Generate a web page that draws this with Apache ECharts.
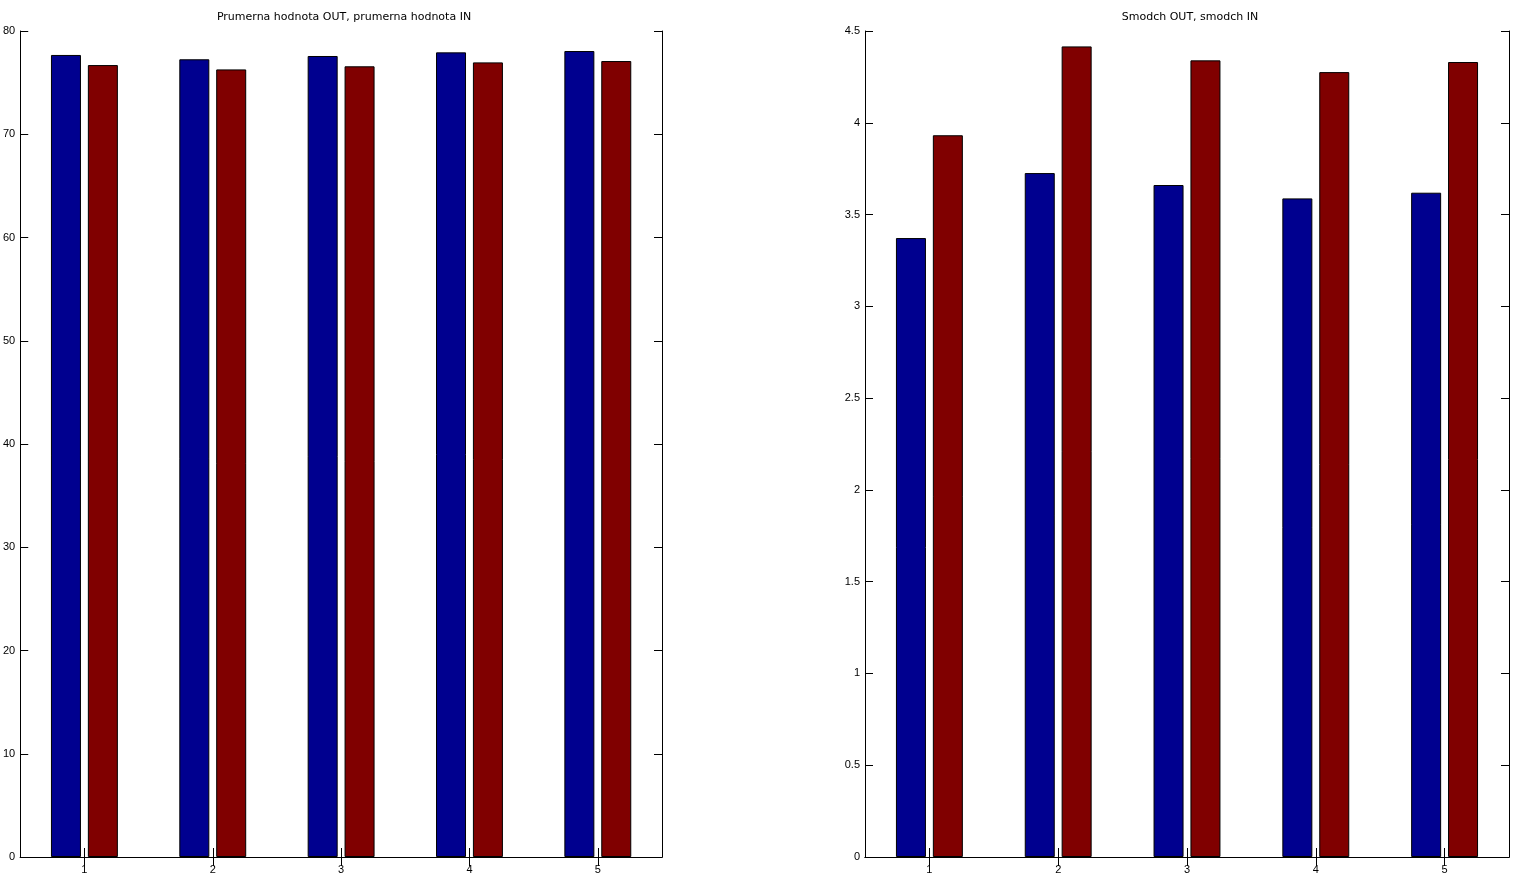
<!DOCTYPE html>
<html>
<head>
<meta charset="utf-8">
<script src="https://cdn.jsdelivr.net/npm/echarts@6/dist/echarts.min.js"></script>
<style>
html,body{margin:0;padding:0;background:#fff;}
#chart{width:1517px;height:880px;}
</style>
</head>
<body>
<div id="chart"></div>
<script>
const categories = ['1', '2', '3', '4', '5'];
const meanOut = [77.68, 77.26, 77.58, 77.93, 78.06];
const meanIn = [76.70, 76.28, 76.58, 76.96, 77.09];
const stdOut = [3.372, 3.726, 3.661, 3.588, 3.619];
const stdIn = [3.932, 4.416, 4.340, 4.276, 4.331];
const leftTicks = { min: 0, max: 80, interval: 10 };
const rightTicks = { min: 0, max: 4.5, interval: 0.5 };
const titles = ['Prumerna hodnota OUT, prumerna hodnota IN', 'Smodch OUT, smodch IN'];

const FONT = '"Liberation Sans", Arial, sans-serif';
const TFONT = '"DejaVu Sans", sans-serif';
const BLUE = '#00008F';
const RED = '#800000';

function xAxes(gridIndex) {
  return [
    {
      type: 'category', gridIndex, data: categories, position: 'bottom',
      axisLine: { show: true, lineStyle: { color: '#000', width: 1 } },
      axisTick: { show: true, inside: true, alignWithLabel: true, length: 9, lineStyle: { color: '#000' } },
      axisLabel: { show: true, color: '#000', fontSize: 11, fontFamily: FONT, margin: 7 },
      splitLine: { show: false }
    },
    {
      type: 'category', gridIndex, data: categories, position: 'top',
      axisLine: { show: true, lineStyle: { color: '#000', width: 1 } },
      axisTick: { show: true, inside: true, alignWithLabel: true, length: 9, lineStyle: { color: '#000' } },
      axisLabel: { show: false },
      splitLine: { show: false }
    }
  ];
}
function yAxes(gridIndex, t) {
  return [
    {
      type: 'value', gridIndex, position: 'left', min: t.min, max: t.max, interval: t.interval,
      axisLine: { show: true, lineStyle: { color: '#000', width: 1 } },
      axisTick: { show: true, inside: true, length: 8, lineStyle: { color: '#000' } },
      axisLabel: { show: true, color: '#000', fontSize: 11, fontFamily: FONT, margin: 5 },
      splitLine: { show: false }
    },
    {
      type: 'value', gridIndex, position: 'right', min: t.min, max: t.max, interval: t.interval,
      axisLine: { show: true, lineStyle: { color: '#000', width: 1 } },
      axisTick: { show: true, inside: true, length: 8, lineStyle: { color: '#000' } },
      axisLabel: { show: false },
      splitLine: { show: false }
    }
  ];
}
function bar(xi, yi, data, color) {
  return {
    type: 'bar', xAxisIndex: xi, yAxisIndex: yi, data,
    barWidth: 30, barGap: '23%',
    itemStyle: { color, borderColor: '#000', borderWidth: 1 },
    emphasis: { disabled: true },
    z: 3
  };
}

const chart = echarts.init(document.getElementById('chart'), null, { renderer: 'canvas' });
chart.setOption({
  animation: false,
  backgroundColor: '#fff',
  textStyle: { fontFamily: FONT },
  title: [
    { text: titles[0], left: 339, top: 7, textAlign: 'center',
      textStyle: { fontSize: 11, fontWeight: 'normal', color: '#000', fontFamily: TFONT } },
    { text: titles[1], left: 1185, top: 7, textAlign: 'center',
      textStyle: { fontSize: 11, fontWeight: 'normal', color: '#000', fontFamily: TFONT } }
  ],
  grid: [
    { left: 20, right: 855, top: 31, bottom: 23, containLabel: false },
    { left: 865, right: 8, top: 31, bottom: 23, containLabel: false }
  ],
  xAxis: [...xAxes(0), ...xAxes(1)],
  yAxis: [...yAxes(0, leftTicks), ...yAxes(1, rightTicks)],
  series: [
    bar(0, 0, meanOut, BLUE),
    bar(0, 0, meanIn, RED),
    bar(2, 2, stdOut, BLUE),
    bar(2, 2, stdIn, RED)
  ]
});
</script>
</body>
</html>
